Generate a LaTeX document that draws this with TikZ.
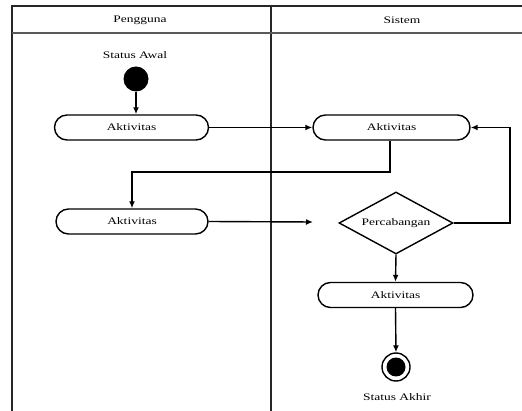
\documentclass[tikz,border=0pt]{standalone}
\usepackage{fontspec}
\setmainfont{Liberation Serif}
\usepackage{graphicx}
\usetikzlibrary{shapes.geometric,arrows.meta}
\newcommand\sq[1]{\scalebox{1.35}[1]{#1}}
\begin{document}
\begin{tikzpicture}[x=1pt,y=-1pt,
  lane/.style={line width=1.8pt,black!85},
  act/.style={draw,line width=1.4pt,rounded corners=12.5pt,minimum width=154pt,minimum height=25pt,inner sep=0pt,font=\fontsize{10}{12}\selectfont},
  dec/.style={draw,diamond,line width=1.4pt,aspect=1.84,minimum width=114pt,minimum height=62pt,inner sep=0pt,font=\fontsize{10}{12}\selectfont},
  lbl/.style={font=\fontsize{10}{12}\selectfont,inner sep=0pt},
  arr/.style={line width=1.4pt,-{Latex[length=7pt,width=6pt]}}]
\useasboundingbox (0,0) rectangle (522,411);
% swimlanes
\draw[lane] (522,6) -- (12,6) -- (12,411);
\draw[lane] (271,6) -- (271,411);
\draw[line width=2pt,black!65] (12,33) -- (522,33);
\node[lbl] (hp) at (140,20) {\sq{Pengguna}};
\node[lbl] (hs) at (402,20) {\sq{Sistem}};
% nodes
\node[circle,fill=black,minimum size=25pt,inner sep=0pt] (start) at (136,79) {};
\node[lbl] (startl) at (135,55) {\sq{Status Awal}};
\node[act] (a1) at (131.5,127.5) {\sq{Aktivitas}};
\node[act,minimum width=157pt] (s1) at (391.5,127.5) {\sq{Aktivitas}};
\node[act,minimum width=152pt] (a2) at (132,221.5) {\sq{Aktivitas}};
\node[dec] (d) at (396,223) {\sq{Percabangan}};
\node[act,minimum width=155pt] (s2) at (395.5,295) {\sq{Aktivitas}};
\node[circle,draw,line width=1.4pt,minimum size=28pt,inner sep=0pt] (end) at (396,367) {};
\node[circle,fill=black,minimum size=19pt,inner sep=0pt] (endin) at (end.center) {};
\node[lbl] (endl) at (397,397) {\sq{Status Akhir}};
\coordinate (bendy) at (0,172);
\coordinate (loopx) at (510,0);
\coordinate (freeend) at (313,222);
% connectors
\draw[arr] (start) -- (start |- a1.north);
\draw[arr] (a1.east) -- (s1.west);
\draw[arr] ([xshift=-1.5pt]s1.south) |- (bendy -| a2.north) -- (a2.north);
\draw[arr] (a2.east) -- (freeend);
\draw[arr] (d.east) -- (d.east -| loopx) |- (s1.east);
\draw[arr] (d.south) -- (s2.north);
\draw[arr] (s2.south) -- (end.north);
\end{tikzpicture}
\end{document}
